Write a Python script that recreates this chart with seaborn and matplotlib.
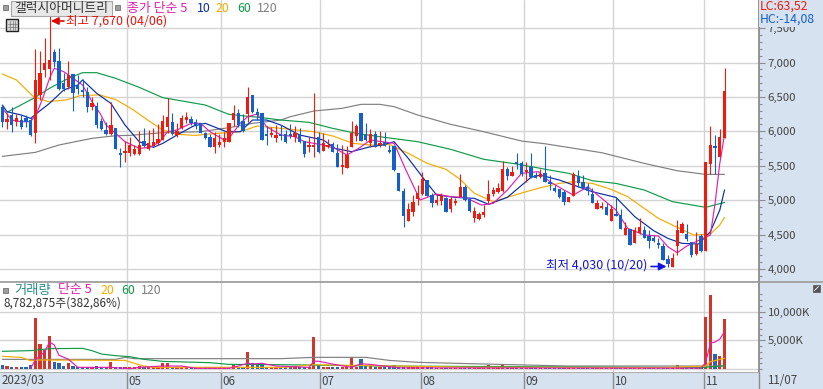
import matplotlib
matplotlib.use('Agg')
import numpy as np
import pandas as pd
import matplotlib.pyplot as plt
import seaborn as sns
from matplotlib.patches import Rectangle

# Daily candles (won)
opens = [6349, 6136, 6238, 6136, 6165, 6194, 6165, 5981, 6529, 6892,
         6902, 7153, 7018, 6698, 6640, 6834, 6674, 6592, 6572, 6350,
         6373, 6151, 6020, 5962, 6054, 5690, 5681, 5681, 5671, 5666,
         5860, 5744, 5792, 5826, 5875, 6059, 6136, 5942, 6054, 6165,
         6185, 6136, 6117, 5971, 5923, 5778, 5802, 5850, 5850, 6165,
         6272, 6155, 6252, 6528, 6286, 6262, 5947, 5947, 5908, 5947,
         5962, 5947, 5923, 5947, 5865, 5778, 5778, 5923, 5715, 5768,
         5816, 5690, 5482, 5473, 5768, 5933, 6262, 5947, 5826, 5962,
         5802, 5850, 5729, 5787, 5390, 5134, 4703, 4833, 5022, 5085,
         5293, 5075, 4964, 4993, 5027, 4872, 4959, 5051, 5196, 5012,
         4741, 4727, 4785, 4993, 5090, 5124, 5138, 5448, 5352, 5535,
         5545, 5410, 5487, 5366, 5332, 5390, 5244, 5172, 5157, 5123,
         4973, 5065, 5351, 5269, 5196, 5089, 4871, 4886, 4896, 4702,
         4799, 4784, 4494, 4576, 4382, 4518, 4566, 4479, 4445, 4373,
         4334, 4140, 4034, 4334, 4528, 4508, 4397, 4213, 4479, 4266,
         5525, 5777, 5622, 5899]
closes = [6136, 6180, 6092, 6199, 6059, 6136, 5952, 6747, 6848, 6998,
          7037, 7008, 6621, 6621, 6819, 6563, 6611, 6572, 6350, 6413,
          6092, 6030, 5957, 6092, 5744, 5657, 5690, 5802, 5744, 5802,
          5787, 5826, 5850, 5884, 6151, 6214, 5962, 6010, 6199, 6209,
          6117, 6092, 5981, 5899, 5778, 5908, 5850, 5899, 6117, 6272,
          6092, 6010, 6495, 6286, 6238, 5875, 5932, 5962, 5947, 5928,
          5850, 5932, 5981, 5850, 5671, 5792, 5802, 5705, 5826, 5792,
          5705, 5477, 5511, 5657, 5971, 6078, 5865, 5875, 5962, 5778,
          5816, 5792, 5695, 5439, 5138, 4770, 4867, 4974, 5100, 5303,
          5061, 4954, 5003, 5061, 4833, 5017, 4988, 5187, 5003, 4843,
          4848, 4799, 4833, 5090, 5148, 5182, 5453, 5352, 5414, 5521,
          5381, 5424, 5342, 5327, 5376, 5269, 5230, 5138, 5041, 4978,
          5041, 5375, 5254, 5172, 5138, 4963, 4963, 4915, 4784, 4871,
          4770, 4586, 4591, 4348, 4566, 4605, 4455, 4407, 4407, 4348,
          4130, 4072, 4164, 4566, 4649, 4431, 4203, 4363, 4266, 5549,
          5801, 5762, 5923, 6592]
highs = [6383, 6262, 6349, 6252, 6233, 6243, 6214, 7192, 7173, 7362,
         7670, 7197, 7207, 6844, 7023, 6834, 6819, 6756, 6640, 6505,
         6431, 6190, 6141, 6422, 6054, 5753, 5865, 5923, 5802, 6000,
         6049, 6020, 6044, 6102, 6238, 6480, 6262, 6117, 6238, 6281,
         6223, 6175, 6117, 5995, 5957, 5995, 5957, 5995, 6117, 6383,
         6320, 6252, 6640, 6529, 6335, 6262, 6078, 6059, 6092, 6092,
         6020, 6107, 6078, 6044, 5865, 5913, 6553, 5995, 5971, 5884,
         5850, 5816, 5802, 5787, 6155, 6107, 6262, 6126, 6030, 6010,
         6010, 5986, 5802, 5787, 5390, 5172, 4954, 5075, 5221, 5405,
         5293, 5109, 5090, 5109, 5050, 5041, 5027, 5381, 5220, 5027,
         4896, 4833, 4930, 5293, 5196, 5255, 5569, 5477, 5497, 5690,
         5574, 5560, 5690, 5415, 5448, 5787, 5365, 5220, 5157, 5148,
         5041, 5404, 5438, 5365, 5244, 5172, 5010, 4978, 4963, 4930,
         5041, 4867, 4687, 4576, 4615, 4736, 4625, 4566, 4494, 4445,
         4373, 4203, 4237, 4712, 4687, 4654, 4397, 4542, 4508, 5549,
         6078, 5948, 6035, 6916]
lows = [6063, 6034, 5991, 6078, 6030, 6059, 5933, 5836, 6456, 6785,
        6747, 6940, 6601, 6592, 6611, 6301, 6543, 6495, 6287, 6311,
        6044, 6020, 5947, 5947, 5744, 5487, 5560, 5642, 5657, 5657,
        5778, 5729, 5787, 5802, 5875, 5971, 5947, 5923, 6030, 6126,
        6092, 6034, 5971, 5884, 5768, 5690, 5768, 5778, 5850, 6078,
        6068, 5995, 6141, 6262, 6165, 5875, 5802, 5923, 5850, 5875,
        5826, 5899, 5850, 5826, 5632, 5705, 5632, 5681, 5715, 5753,
        5695, 5477, 5381, 5473, 5768, 5865, 5865, 5865, 5768, 5768,
        5768, 5787, 5681, 5429, 5138, 4615, 4703, 4770, 4930, 5075,
        5061, 4906, 4930, 4930, 4824, 4824, 4930, 5041, 4993, 4833,
        4688, 4712, 4760, 4954, 5061, 5110, 5124, 5293, 5352, 5453,
        5352, 5269, 5318, 5318, 5318, 5260, 5148, 5114, 5031, 4930,
        4973, 5065, 5196, 5157, 5075, 4954, 4871, 4871, 4784, 4695,
        4770, 4576, 4494, 4348, 4382, 4510, 4445, 4310, 4397, 4300,
        4130, 4030, 4034, 4203, 4518, 4411, 4179, 4203, 4252, 4266,
        5380, 5380, 5622, 5899]
volumes = [700, 520, 350, 350, 350, 350, 700, 8890, 4360, 3310,
           5750, 1280, 990, 520, 1100, 520, 350, 400, 400, 350,
           520, 350, 350, 1280, 400, 300, 300, 300, 300, 520,
           300, 300, 300, 300, 1050, 1050, 350, 350, 400, 400,
           300, 300, 300, 300, 300, 300, 300, 300, 300, 700,
           300, 350, 2960, 990, 640, 870, 350, 350, 350, 350,
           350, 350, 350, 350, 300, 350, 5580, 640, 350, 350,
           300, 350, 350, 350, 1980, 350, 1740, 640, 700, 350,
           350, 300, 350, 700, 350, 350, 300, 300, 300, 300,
           300, 300, 250, 250, 250, 250, 250, 250, 250, 250,
           250, 250, 250, 750, 250, 250, 750, 250, 250, 250,
           250, 250, 250, 250, 250, 250, 200, 200, 200, 200,
           200, 200, 200, 200, 200, 200, 200, 200, 200, 200,
           200, 200, 200, 200, 200, 200, 200, 200, 200, 200,
           200, 200, 200, 700, 200, 200, 200, 200, 200, 9060,
           12900, 2610, 2270, 8783]

# Moving averages, vertices
ma5_i = [0, 2, 4, 6, 7.3, 8.7, 10, 11, 13, 15, 17, 19, 20.7, 22, 24, 26, 29, 31.3, 33.4, 35,
         37, 40, 42, 44, 47, 48, 50.4, 52, 54, 56, 59, 62, 64, 68, 70.5, 73, 75.5, 78, 80.5, 83,
         85.5, 88.5, 92, 95, 98, 101.5, 104, 107, 110, 113.5, 116, 119, 121, 124, 127, 130, 132.5,
         136, 139, 141, 143, 145, 148, 150, 151, 152, 153]
ma5 = [6335, 6165, 6141, 6141, 6262, 6505, 6771, 6916, 6868, 6771, 6674, 6431, 6262, 6092, 5971, 5850,
       5753, 5768, 5850, 5995, 6020, 6117, 6117, 5995, 5875, 5899, 6117, 6214, 6252, 6068, 5947,
       5923, 5850, 5802, 5753, 5657, 5753, 5875, 5850, 5826, 5439, 5003, 5090, 5051, 5041, 4930,
       4954, 5148, 5390, 5415, 5269, 5148, 5075, 5196, 5026, 4857, 4590, 4494, 4479, 4324, 4237,
       4334, 4431, 4494, 4954, 5535, 5950]
ma10_i = [0, 1, 4, 6, 7.3, 10, 13, 16, 17, 20, 23, 26, 29, 32, 34, 37, 40.5, 43, 47.5, 50.4, 53, 56,
          59, 63, 68, 70.5, 74, 78, 80.5, 83, 86, 89.5, 92, 96, 100, 103, 107, 112, 114, 118, 121,
          125, 130, 134, 138, 141, 144, 147.5, 150, 152, 153]
ma10 = [6383, 6286, 6238, 6189, 6262, 6407, 6601, 6674, 6747, 6553, 6407, 6092, 5850, 5768, 5826, 5947,
        6078, 6117, 5995, 5995, 6165, 6165, 6092, 5947, 5875, 5753, 5705, 5778, 5802, 5850, 5608,
        5293, 5075, 5041, 5027, 4940, 5042, 5332, 5365, 5293, 5220, 5123, 5041, 4760, 4557, 4445,
        4373, 4363, 4542, 4857, 5148]
ma20_i = [0, 3, 6.6, 9.7, 13.6, 16.5, 20.7, 24.2, 27.8, 31.3, 34, 37, 41, 45.4, 50.4, 54, 59, 66, 70,
          74.3, 78, 82, 86, 90, 94, 97, 100, 104, 107, 111, 114, 118, 121, 125, 129, 132.5, 136, 139,
          143, 146.5, 150, 152, 153]
ma20 = [6834, 6747, 6505, 6432, 6457, 6520, 6530, 6457, 6310, 6141, 6020, 5957, 5942, 5971, 5995, 6078,
        6044, 5995, 5933, 5826, 5802, 5811, 5681, 5536, 5448, 5303, 5100, 4979, 5042, 5124, 5181,
        5244, 5269, 5244, 5157, 5051, 4881, 4736, 4605, 4494, 4508, 4639, 4750]
ma60_i = [1, 7, 10, 14, 17, 20, 24, 29, 34, 39, 43, 48, 55, 59, 65, 70, 75, 81, 88, 95, 102, 109, 115,
          120, 125, 130, 136, 142, 147, 149, 153]
ma60 = [6277, 6495, 6626, 6771, 6853, 6853, 6771, 6640, 6490, 6431, 6383, 6247, 6199, 6165, 6131, 6044,
        5971, 5913, 5850, 5739, 5594, 5526, 5450, 5390, 5283, 5244, 5148, 4978, 4920, 4896, 4968]
ma120_i = [0, 7, 12, 19, 24, 27, 34, 42, 48, 53, 59, 61, 66, 72, 76, 80, 83, 88, 95, 102, 110, 115,
           127, 136, 143, 149, 153]
ma120 = [5637, 5695, 5802, 5899, 5937, 5942, 5981, 5995, 6054, 6117, 6165, 6213, 6296, 6335, 6393, 6393,
         6359, 6238, 6102, 5995, 5860, 5820, 5690, 5535, 5428, 5375, 5375]

# Volume moving averages (K)
vol5_i = [6, 7, 9, 10, 11, 12, 14, 16, 23, 27, 29, 34, 38, 41, 48, 50, 52, 53, 55, 58, 65, 66, 67, 71, 74, 76, 78, 84, 148, 149, 150, 151, 152, 153]
vol5 = [100, 1600, 3000, 4700, 4200, 2400, 1700, 290, 290, 50, 290, 520, 520, 120, 120, 520, 990, 870, 990, 520, 290, 1350, 1350, 700, 290, 900, 800, 200, 150, 1100, 4500, 4700, 5200, 6500]
vol20_i = [0, 4, 6, 8, 26, 28, 30, 32, 60, 66, 80, 100, 140, 149, 150, 153]
vol20 = [2200, 2030, 1450, 1570, 1500, 990, 520, 290, 290, 750, 560, 300, 230, 500, 1280, 1860]
vol60_i = [0, 6, 10, 17, 19, 21, 24, 27, 30, 34, 44, 48, 59, 80, 110, 148, 153]
vol60 = [3080, 3200, 3540, 3600, 3190, 2610, 2320, 2150, 1680, 1330, 1100, 810, 750, 520, 400, 230, 580]
vol120_i = [0, 24, 26, 28, 59, 66, 77, 82, 88, 105, 120, 153]
vol120 = [1680, 1680, 2030, 1800, 1800, 2030, 2030, 1500, 1160, 810, 520, 520]

month_ticks = [26.5, 46.4, 67.4, 88.6, 110.5, 129.4, 148.6]
month_labels = ['05', '06', '07', '08', '09', '10', '11']
price_ticks = [4000, 4500, 5000, 5500, 6000, 6500, 7000, 7500]
vol_ticks = [5000, 10000]

RED = '#EE1C0E'
BLUE = '#1560C8'
MAGENTA = '#E020B0'
NAVY = '#0A2DA8'
ORANGE = '#F5AC00'
GREEN = '#0F9B48'
GRAY = '#808080'
PANEL = '#D6E2F0'
GRID = '#D4D4D4'
TEXT = '#444444'

sns.set_style('white')
plt.rcParams['font.family'] = ['Noto Sans CJK KR', 'DejaVu Sans']

W, H = 823, 389
fig = plt.figure(figsize=(W / 100, H / 100), dpi=100, facecolor=PANEL)


def pane(left, top, right, bottom):
    return fig.add_axes([left / W, 1 - bottom / H, (right - left) / W, (bottom - top) / H])


def label(x, y, s, color=TEXT, size=8.9, **kw):
    return fig.text(x / W, 1 - y / H, s, color=color, fontsize=size, va='center', ha='left', **kw)


ax = pane(0, 0, 758.5, 281)
ax_vol = pane(0, 282, 758.5, 372)

df = pd.DataFrame({'i': np.arange(len(opens)), 'open': opens, 'close': closes,
                   'high': highs, 'low': lows, 'volume': volumes})
df['up'] = df['close'] >= df['open']

# price pane
for a in (ax, ax_vol):
    a.set_xlim(-0.487, 160.2)
    a.set_facecolor('white')
    for m in month_ticks:
        a.axvline(m, color=GRID, lw=1.0, zorder=0)
ax.set_ylim(3826, 7909)
for p in price_ticks:
    ax.axhline(p, color=GRID, lw=1.0, zorder=0)

for xs, ys, c in [(ma120_i, ma120, GRAY), (ma60_i, ma60, GREEN), (ma20_i, ma20, ORANGE),
                  (ma10_i, ma10, NAVY), (ma5_i, ma5, MAGENTA)]:
    sns.lineplot(x=xs, y=ys, color=c, lw=0.85, ax=ax, estimator=None, sort=False, zorder=2)

colors = df['up'].map({True: RED, False: BLUE})
ax.vlines(df['i'], df['low'], df['high'], colors=colors, lw=0.8, zorder=3)
ax.bar(df['i'], (df['close'] - df['open']).abs().clip(lower=30), bottom=df[['open', 'close']].min(axis=1),
       width=0.7, color=colors, zorder=4, lw=0, antialiased=False)

# volume pane
ax_vol.set_ylim(-522, 15155)
for v in vol_ticks + [0]:
    ax_vol.axhline(v, color=GRID, lw=1.0, zorder=0)
sns.barplot(data=df, x='i', y='volume', hue='up', palette={True: RED, False: BLUE}, native_scale=True,
            dodge=False, width=0.68, ax=ax_vol, legend=False, zorder=3, lw=0, antialiased=False)
for xs, ys, c in [(vol120_i, vol120, GRAY), (vol60_i, vol60, GREEN), (vol20_i, vol20, ORANGE), (vol5_i, vol5, MAGENTA)]:
    sns.lineplot(x=xs, y=ys, color=c, lw=0.85, ax=ax_vol, estimator=None, sort=False, zorder=4)

# axes
for a in (ax, ax_vol):
    a.set_xlabel('')
    a.set_ylabel('')
    a.yaxis.tick_right()
    for s in a.spines.values():
        s.set_visible(False)
    a.spines['right'].set_visible(True)
    a.spines['right'].set_color('#8C8C8C')
    a.spines['right'].set_linewidth(1.3)

ax.set_xticks([])
ax.set_yticks(price_ticks, [f'{p:,}' for p in price_ticks])
ax.set_yticks(np.arange(3900, 7900, 100), minor=True)
ax_vol.set_yticks(vol_ticks, ['5,000K', '10,000K'])
ax_vol.set_yticks(np.arange(0, 14000, 1000), minor=True)
for a in (ax, ax_vol):
    a.tick_params(axis='y', which='major', length=4, width=0.8, color='#8C8C8C', labelcolor=TEXT,
                  labelsize=8.2, pad=2.5, right=True)
    a.tick_params(axis='y', which='minor', length=2.2, width=0.8, color='#8C8C8C', right=True)

ax_vol.set_xticks(month_ticks, [''] * len(month_ticks))
ax_vol.tick_params(axis='x', length=12.5, width=1.0, color='#8C8C8C', bottom=True)
for m, s in zip(month_ticks, month_labels):
    ax_vol.annotate(s, (m, 0), xycoords=ax_vol.get_xaxis_transform(), xytext=(1, -2.5),
                    textcoords='offset points', va='top', ha='left', color=TEXT, fontsize=8.3)
label(2, 380, '2023/03', size=8.3)
label(767, 380, '11/07', size=8.3)

# separators
fig.add_artist(plt.Line2D([0, 1], [1 - 281.5 / H] * 2, color='#9A9A9A', lw=1.2))
fig.add_artist(plt.Line2D([0, 758.5 / W], [1 - 372 / H] * 2, color='#B0B0B0', lw=0.8))
fig.add_artist(plt.Line2D([758.5 / W] * 2, [0, 1 - 372 / H], color='#8C8C8C', lw=1.0))


def box(x, y, w, h, **kw):
    fig.add_artist(Rectangle((x / W, 1 - (y + h) / H), w / W, h / H, transform=fig.transFigure, **kw))


# price header
box(3, 5, 5, 5, fc='#9E9E9E', ec='#707070', lw=0.6)
box(10.5, 1.5, 101, 14, fc='#E8E8E8', ec='#A8A8A8', lw=0.8)
label(14, 8.5, '갤럭시아머니트리', color='#333333', size=9.2)
box(115, 5, 5, 5, fc='#9E9E9E', ec='#707070', lw=0.6)
label(127, 8.5, '종가 단순 5', color=MAGENTA, size=9.3)
label(197, 8.5, '10', color=NAVY)
label(216, 8.5, '20', color=ORANGE)
label(237, 8.5, '60', color=GREEN)
label(257, 8.5, '120', color=GRAY)
box(6, 19, 12, 12, fc='#D8D8D8', ec='#222222', lw=1.0)
for gx in (9.5, 12.5, 15):
    fig.add_artist(plt.Line2D([gx / W] * 2, [1 - 21 / H, 1 - 30 / H], color='#777777', lw=0.5))
for gy in (24, 27):
    fig.add_artist(plt.Line2D([8 / W, 16.5 / W], [1 - gy / H] * 2, color='#777777', lw=0.5))

# high / low notes
ax.annotate('', xy=(51 / W, 1 - 21 / H), xycoords='figure fraction', xytext=(64 / W, 1 - 21 / H),
            textcoords='figure fraction',
            arrowprops=dict(arrowstyle='-|>', color='#E00000', lw=1.2, mutation_scale=11, shrinkA=0, shrinkB=0))
label(66, 21, '최고 7,670 (04/06)', color='#E8140A', size=9.0)
label(546, 265.5, '최저 4,030 (10/20)', color='#1414D8', size=9.0)
ax.annotate('', xy=(666.5 / W, 1 - 266.5 / H), xycoords='figure fraction', xytext=(651 / W, 1 - 266.5 / H),
            textcoords='figure fraction',
            arrowprops=dict(arrowstyle='-|>', color='#1414E0', lw=1.2, mutation_scale=11, shrinkA=0, shrinkB=0))

# LC / HC
label(760, 6.5, 'LC:63,52', color=RED, size=8.8, zorder=6,
      bbox=dict(fc=PANEL, ec='none', pad=0.6))
label(760, 19.5, 'HC:-14,08', color=BLUE, size=8.8, zorder=6,
      bbox=dict(fc=PANEL, ec='none', pad=0.6))

# volume header
box(3, 288, 5, 5, fc='#9E9E9E', ec='#707070', lw=0.6)
label(14, 290, '거래량', color='#2A8C8C', size=9.6)
label(58, 290, '단순 5', color=MAGENTA, size=9.3)
label(101, 290, '20', color=ORANGE)
label(121, 290, '60', color=GREEN)
label(141, 290, '120', color=GRAY)
label(4, 303, '8,782,875주(382,86%)', color='#333333', size=8.5)
box(813, 285, 7, 7, fc='#555555', ec='#555555', lw=0.5)
fig.add_artist(plt.Line2D([814.5 / W, 818.5 / W], [1 - 290.5 / H, 1 - 286.5 / H], color='white', lw=0.6))

fig.savefig('out.png', dpi=100, facecolor=fig.get_facecolor())
